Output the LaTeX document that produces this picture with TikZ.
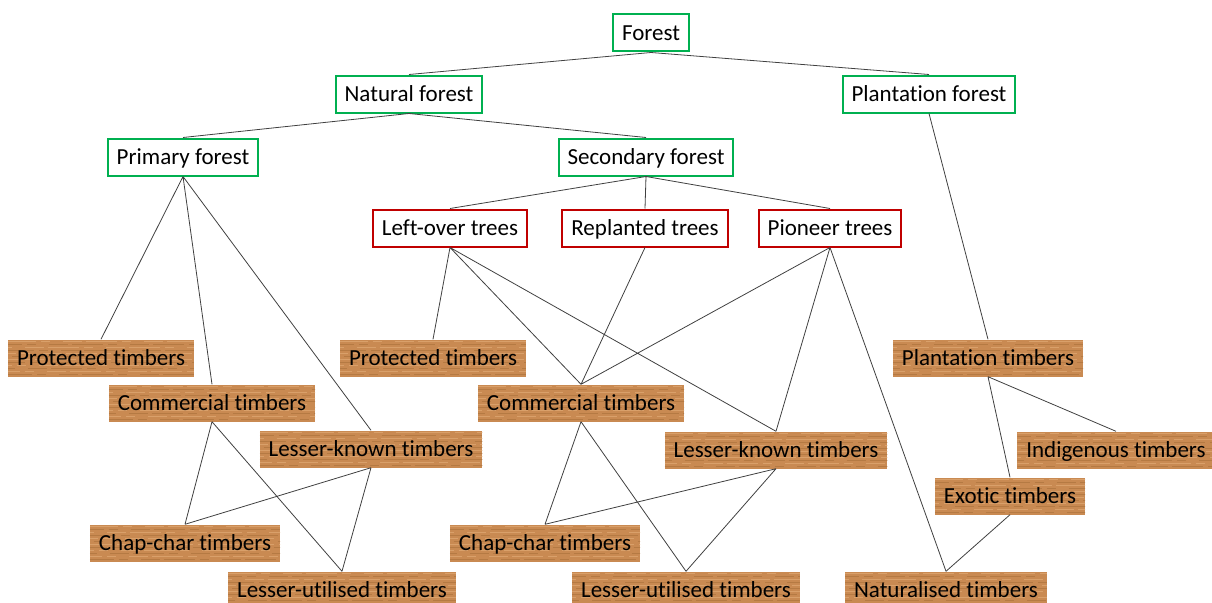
\documentclass[tikz,border=0pt]{standalone}
\usepackage{fontspec}
\setmainfont{Carlito}[Ligatures=NoCommon]
\definecolor{grn}{HTML}{00B050}
\definecolor{rd}{HTML}{C00000}
\definecolor{wood}{HTML}{C98A52}
\definecolor{woodlt}{HTML}{DDA670}
\definecolor{wooddk}{HTML}{B07640}
\begin{document}
\begin{tikzpicture}[x=1pt,y=-1pt,font=\fontsize{23}{26}\selectfont,
every node/.style={text height=15pt,text depth=0pt},
box/.style={line width=2pt,fill=white,minimum height=37pt,inner xsep=9pt,inner ysep=0pt},
gbox/.style={box,draw=grn},
rbox/.style={box,draw=rd},
wbox/.style={fill=wood,minimum height=37pt,inner xsep=9pt,inner ysep=0pt,path picture={
\foreach \f/\c/\d in {-17/woodlt/3,-14/wooddk/17,-11/woodlt/41,-8/wooddk/5,-5/woodlt/23,-2/wooddk/32,1/woodlt/9,4/wooddk/14,7/woodlt/27,10/wooddk/38,13/woodlt/19,16/wooddk/7}
{\draw[\c,line width=0.9pt,opacity=.8,dash pattern=on 31pt off 5pt on 9pt off 13pt on 19pt off 4pt,dash phase=\d pt](path picture bounding box.west)++(0,\f)--++(400,0);}
}},
link/.style={draw=black!75,line width=0.8pt}]
\useasboundingbox(0,0)rectangle(1212,602);
% forests
\node[gbox](forest)at(651,33){Forest};
\node[gbox](natural)at(409,94){Natural forest};
\node[gbox](plantation)at(929,94){Plantation forest};
\node[gbox](primary)at(183,157){Primary forest};
\node[gbox](secondary)at(646,157){Secondary forest};
% trees
\node[rbox](leftover)at(450,228){Left-over trees};
\node[rbox](replanted)at(645,228){Replanted trees};
\node[rbox](pioneer)at(830,228){Pioneer trees};
% timbers
\node[wbox](prot1)at(101,358){Protected timbers};
\node[wbox](comm1)at(212,403){Commercial timbers};
\node[wbox](lk1)at(371,449){Lesser-known timbers};
\node[wbox](cc1)at(185,543){Chap-char timbers};
\node[wbox](lu1)at(342,590){Lesser-utilised timbers};
\node[wbox](prot2)at(433,358){Protected timbers};
\node[wbox](comm2)at(581,403){Commercial timbers};
\node[wbox](lk2)at(776,450){Lesser-known timbers};
\node[wbox](cc2)at(545,543){Chap-char timbers};
\node[wbox](lu2)at(686,590){Lesser-utilised timbers};
\node[wbox](plt)at(988,358){Plantation timbers};
\node[wbox](ind)at(1116,450){Indigenous timbers};
\node[wbox](exo)at(1010,496){Exotic timbers};
\node[wbox](nat)at(946,590){Naturalised timbers};
% links
\path[link](forest.south)--(natural.north)(forest.south)--(plantation.north)
(natural.south)--(primary.north)(natural.south)--(secondary.north)
(plantation.south)--(plt.north);
\path[link](primary.south)--(prot1.north)(primary.south)--(comm1.north)(primary.south)--(lk1.north);
\path[link](secondary.south)--(leftover.north)(secondary.south)--(replanted.north)(secondary.south)--(pioneer.north);
\path[link](leftover.south)--(prot2.north)(leftover.south)--(comm2.north)(leftover.south)--(lk2.north)
(replanted.south)--(comm2.north)
(pioneer.south)--(comm2.north)(pioneer.south)--(lk2.north)(pioneer.south)--(nat.north);
\path[link](comm1.south)--(cc1.north)(comm1.south)--(lu1.north)(lk1.south)--(cc1.north)(lk1.south)--(lu1.north);
\path[link](comm2.south)--(cc2.north)(comm2.south)--(lu2.north)(lk2.south)--(cc2.north)(lk2.south)--(lu2.north);
\path[link](plt.south)--(ind.north)(plt.south)--(exo.north)(exo.south)--(nat.north);
\end{tikzpicture}
\end{document}
